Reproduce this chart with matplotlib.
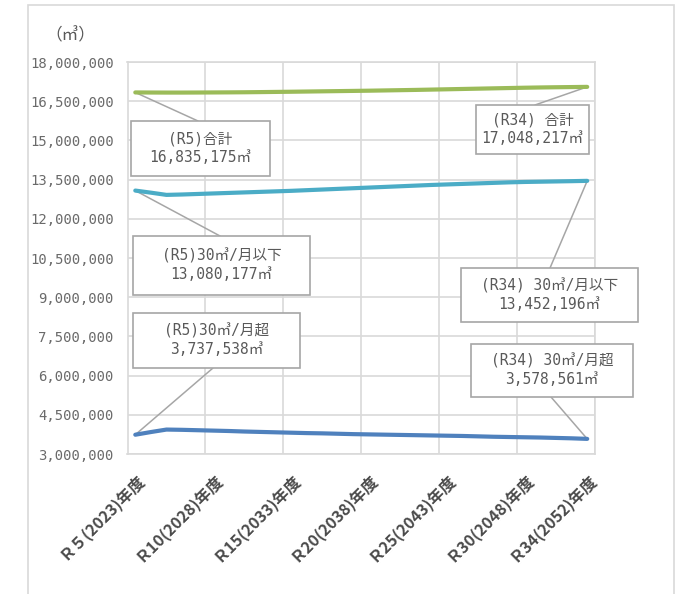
import matplotlib
matplotlib.use("Agg")
import matplotlib.pyplot as plt
from matplotlib.patches import Rectangle
from matplotlib.ticker import FuncFormatter, MultipleLocator, FixedLocator

plt.rcParams["font.family"] = ["Noto Sans CJK JP", "DejaVu Sans"]
MONO = ["DejaVu Sans Mono", "Noto Sans CJK JP"]

# ---- data (㎥ per year, R5 .. R34) ----
reiwa = list(range(5, 35))

total = [16835175, 16832000, 16830000, 16830000, 16832000, 16835000,
         16838000, 16842000, 16848000, 16855000, 16862000, 16870000,
         16878000, 16886000, 16894000, 16902000, 16912000, 16922000,
         16932000, 16944000, 16956000, 16968000, 16980000, 16992000,
         17004000, 17016000, 17026000, 17034000, 17041000, 17048217]

under30 = [13080177, 13000000, 12915000, 12930000, 12950000, 12970000,
           12990000, 13010000, 13030000, 13050000, 13070000, 13095000,
           13120000, 13145000, 13170000, 13195000, 13220000, 13245000,
           13270000, 13295000, 13315000, 13335000, 13355000, 13375000,
           13395000, 13410000, 13420000, 13430000, 13440000, 13452196]

over30 = [3737538, 3840000, 3935000, 3925000, 3910000, 3895000,
          3880000, 3860000, 3845000, 3830000, 3815000, 3800000,
          3790000, 3775000, 3760000, 3750000, 3740000, 3730000,
          3720000, 3710000, 3700000, 3690000, 3675000, 3660000,
          3650000, 3640000, 3630000, 3615000, 3600000, 3578561]

tick_pos = [0, 5, 10, 15, 20, 25, 29]
tick_labels = ["Ｒ５(2023)年度", "Ｒ10(2028)年度", "Ｒ15(2033)年度",
               "Ｒ20(2038)年度", "Ｒ25(2043)年度", "Ｒ30(2048)年度",
               "Ｒ34(2052)年度"]

series = [
    ("合計", total, "#9BBB59"),
    ("30㎥/月以下", under30, "#4BACC6"),
    ("30㎥/月超", over30, "#4F81BD"),
]

W, H = 683, 594
TXT = "#595959"
GRID = "#D9D9D9"
EDGE = "#A6A6A6"


def fx(px):
    return px / W


def fy(py):
    return 1 - py / H


fig = plt.figure(figsize=(W / 100, H / 100), dpi=100)
ax = fig.add_axes([fx(127.5), fy(454), fx(595) - fx(127.5), fy(62) - fy(454)])

x = list(range(len(reiwa)))
for name, vals, col in series:
    ax.plot(x, vals, color=col, lw=3.0, solid_capstyle="round",
            solid_joinstyle="round", zorder=3)

ax.set_xlim(-0.5, len(reiwa) - 0.5)
ax.set_ylim(3_000_000, 18_000_000)
ax.yaxis.set_major_locator(MultipleLocator(1_500_000))
ax.yaxis.set_major_formatter(FuncFormatter(lambda v, p: f"{int(round(v)):,}"))
ax.xaxis.set_major_locator(FixedLocator(tick_pos))
ax.set_xticklabels(tick_labels, rotation=45, ha="right",
                   rotation_mode="anchor", fontsize=11.5, color="#4a4a4a",
                   fontweight="bold")
ax.xaxis.set_minor_locator(FixedLocator([b - 0.5 for b in range(0, len(reiwa) + 1, 5)] + [len(reiwa) - 0.5]))
ax.tick_params(axis="x", which="both", length=0, pad=12)
ax.tick_params(axis="y", length=0, pad=10, labelsize=10, labelcolor="#6a6a6a")
for t in ax.get_yticklabels():
    t.set_fontfamily(MONO)

ax.grid(axis="y", which="major", color=GRID, lw=1.2, zorder=0)
ax.grid(axis="x", which="minor", color=GRID, lw=1.2, zorder=0)
ax.set_axisbelow(True)
for s in ax.spines.values():
    s.set_color(GRID)
    s.set_linewidth(1.2)

# unit label
fig.text(fx(70), fy(36), "（㎥）", ha="center", va="center", fontsize=12, color=TXT)

# outer frame
fig.patches.append(Rectangle((fx(28), -0.02), fx(674) - fx(28), fy(5) + 0.02,
                             transform=fig.transFigure, fill=False,
                             edgecolor=GRID, lw=1.2))

# callout boxes: (series index, data index, prefix, box px (x0, y0, x1, y1), leader anchor px)
callouts = [
    (0, 0, "(R5)", (131, 121, 270, 176), (198, 121)),
    (0, 29, "(R34) ", (476, 105, 589, 154), (535, 105)),
    (1, 0, "(R5)", (133, 236, 310, 295), (220, 236)),
    (1, 29, "(R34) ", (461, 268, 638, 322), (550, 268)),
    (2, 0, "(R5)", (133, 313, 300, 368), (213, 368)),
    (2, 29, "(R34) ", (471, 344, 633, 397), (551, 397)),
]

for si, di, prefix, (x0, y0, x1, y1), (axp, ayp) in callouts:
    name, vals, col = series[si]
    ax.annotate("", xy=(di, vals[di]), xycoords="data",
                xytext=(fx(axp), fy(ayp)), textcoords="figure fraction",
                arrowprops=dict(arrowstyle="-", color=EDGE, lw=1.1,
                                shrinkA=0, shrinkB=0),
                annotation_clip=False, zorder=2)
    fig.patches.append(Rectangle((fx(x0), fy(y1)), fx(x1) - fx(x0), fy(y0) - fy(y1),
                                 transform=fig.transFigure, facecolor="white",
                                 edgecolor=EDGE, lw=1.2, zorder=5))
    label = f"{prefix}{name}\n{vals[di]:,}㎥"
    fig.text(fx((x0 + x1) / 2), fy((y0 + y1) / 2), label, ha="center",
             va="center", fontsize=10.5, color=TXT, linespacing=1.3,
             multialignment="center", family=MONO, zorder=6)

fig.savefig("out.png", dpi=100)
